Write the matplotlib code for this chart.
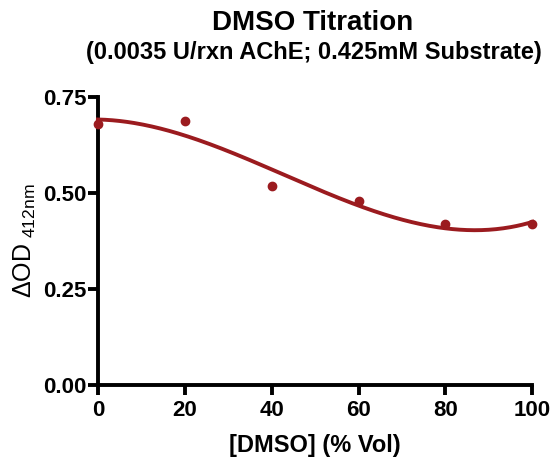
import numpy as np
import matplotlib
matplotlib.use("Agg")
import matplotlib.pyplot as plt

plt.rcParams['font.family'] = ['Liberation Sans', 'DejaVu Sans']
plt.rcParams['mathtext.fontset'] = 'custom'
plt.rcParams['mathtext.rm'] = 'Liberation Sans'

# DMSO concentration (% Vol) and measured change in OD at 412 nm
dmso = [0, 20, 40, 60, 80, 100]
delta_od = [0.680, 0.688, 0.517, 0.478, 0.419, 0.419]

color = '#9b1b1f'

fig = plt.figure(figsize=(5.5, 4.59), dpi=100)
ax = fig.add_axes([0.178, 0.161, 0.79, 0.628])

# cubic fit through the points
coef = np.polyfit(dmso, delta_od, 3)
xs = np.linspace(0, 100, 300)
ax.plot(xs, np.polyval(coef, xs), color=color, lw=2.8, clip_on=False, zorder=3)
ax.scatter(dmso, delta_od, s=36, color=color, clip_on=False, zorder=4)

ax.set_xlim(0, 100)
ax.set_ylim(0, 0.75)
ax.set_xticks([0, 20, 40, 60, 80, 100])
ax.set_yticks([0, 0.25, 0.5, 0.75])
ax.set_yticklabels(['0.00', '0.25', '0.50', '0.75'])

for s in ['top', 'right']:
    ax.spines[s].set_visible(False)
for s in ['left', 'bottom']:
    ax.spines[s].set_linewidth(2.8)
ax.tick_params(width=2.8, length=7, labelsize=16)
ax.tick_params(axis='y', pad=1)
ax.tick_params(axis='x', pad=4)
for lab in ax.get_xticklabels() + ax.get_yticklabels():
    lab.set_fontweight('bold')

ax.set_xlabel('[DMSO] (% Vol)', fontsize=17, fontweight='bold', labelpad=9)
ax.set_ylabel('ΔOD$_{\\ \\mathrm{412nm}}$', fontsize=18, labelpad=4)

fig.text(0.569, 0.95, 'DMSO Titration', ha='center', va='center',
         fontsize=20, fontweight='bold')
fig.text(0.57, 0.885, '(0.0035 U/rxn AChE; 0.425mM Substrate)', ha='center',
         va='center', fontsize=17, fontweight='bold')

fig.savefig('out.png', dpi=100)
